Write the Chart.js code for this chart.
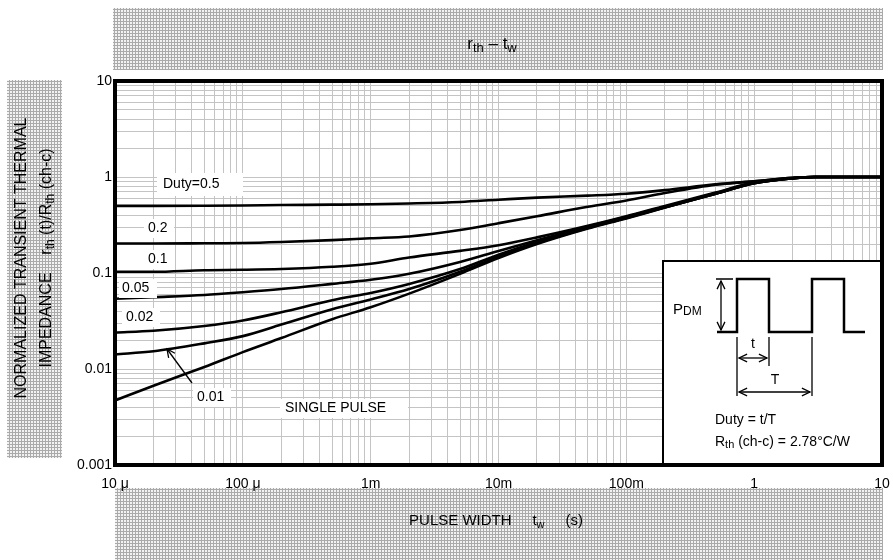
<!DOCTYPE html>
<html>
<head>
<meta charset="utf-8">
<script src="https://cdn.jsdelivr.net/npm/chart.js@4.4.0/dist/chart.umd.min.js"></script>
<style>
  html, body { margin: 0; padding: 0; background: #fff; }
  #wrap { width: 893px; height: 560px; }
</style>
</head>
<body>
<div id="wrap"><canvas id="chart" width="893" height="560"></canvas></div>
<script>
// pulse width (s)
const timeS = [1e-5, 2e-5, 5e-5, 1e-4, 2e-4, 5e-4, 1e-3, 2e-3, 5e-3, 1e-2, 2e-2, 5e-2, 0.1, 0.2, 0.5, 1, 2, 3, 5, 10];

// normalized transient thermal impedance per duty
const duty05  = [0.50, 0.50, 0.502, 0.505, 0.51, 0.515, 0.52, 0.53, 0.55, 0.58, 0.61, 0.64, 0.67, 0.73, 0.84, 0.90, 0.98, 1.0, 1.0, 1.0];
const duty02  = [0.203, 0.203, 0.204, 0.205, 0.21, 0.22, 0.23, 0.24, 0.28, 0.33, 0.39, 0.49, 0.57, 0.68, 0.83, 0.90, 0.98, 1.0, 1.0, 1.0];
const duty01  = [0.103, 0.103, 0.107, 0.108, 0.110, 0.116, 0.125, 0.145, 0.17, 0.195, 0.235, 0.31, 0.39, 0.50, 0.69, 0.88, 0.97, 1.0, 1.0, 1.0];
const duty005 = [0.054, 0.056, 0.059, 0.063, 0.068, 0.077, 0.085, 0.098, 0.13, 0.17, 0.22, 0.305, 0.385, 0.49, 0.68, 0.87, 0.97, 1.0, 1.0, 1.0];
const duty002 = [0.024, 0.025, 0.028, 0.032, 0.039, 0.052, 0.062, 0.077, 0.11, 0.155, 0.21, 0.30, 0.38, 0.485, 0.67, 0.86, 0.97, 1.0, 1.0, 1.0];
const duty001 = [0.0142, 0.0153, 0.0185, 0.022, 0.029, 0.042, 0.053, 0.068, 0.103, 0.148, 0.205, 0.295, 0.375, 0.48, 0.67, 0.86, 0.97, 1.0, 1.0, 1.0];
const singlePulse = [0.0047, 0.0067, 0.0105, 0.015, 0.021, 0.033, 0.044, 0.061, 0.098, 0.143, 0.20, 0.29, 0.37, 0.48, 0.67, 0.86, 0.97, 1.0, 1.0, 1.0];

const xTickLabels = ['10 \u03bc', '100 \u03bc', '1m', '10m', '100m', '1', '10'];
const yTickLabels = ['0.001', '0.01', '0.1', '1', '10'];

const FONT = "'Liberation Sans', Arial, sans-serif";

function toPoints(arr) {
    return timeS.map((t, i) => ({ x: t, y: arr[i] }));
}

function logTicks(minExp, maxExp) {
    const out = [];
    for (let e = minExp; e < maxExp; e++) {
        for (let m = 1; m < 10; m++) out.push({ value: m * Math.pow(10, e) });
    }
    out.push({ value: Math.pow(10, maxExp) });
    return out;
}

function decadeIndex(v, minExp) {
    const l = Math.log10(v);
    if (Math.abs(l - Math.round(l)) > 1e-6) return -1;
    return Math.round(l) - minExp;
}

// hatched texture for the title bands
function makePattern(ctx) {
    const c = document.createElement('canvas');
    c.width = 3; c.height = 3;
    const p = c.getContext('2d');
    p.fillStyle = '#f2f2f2';
    p.fillRect(0, 0, 3, 3);
    p.fillStyle = '#aaaaaa';
    p.fillRect(0, 0, 1, 3);
    p.fillRect(0, 0, 3, 1);
    return ctx.createPattern(c, 'repeat');
}

// draw runs of text with different sizes / offsets (for subscripts)
function runsWidth(ctx, runs) {
    let w = 0;
    runs.forEach(r => { ctx.font = r[1] + 'px ' + FONT; w += ctx.measureText(r[0]).width; });
    return w;
}
function drawRuns(ctx, runs, x, y, align) {
    let cx = x;
    if (align === 'center') cx = x - runsWidth(ctx, runs) / 2;
    ctx.textAlign = 'left';
    ctx.textBaseline = 'middle';
    runs.forEach(r => {
        ctx.font = r[1] + 'px ' + FONT;
        ctx.fillText(r[0], cx, y + (r[2] || 0));
        cx += ctx.measureText(r[0]).width;
    });
}

function arrowHead(ctx, x1, y1, x2, y2, size) {
    const a = Math.atan2(y2 - y1, x2 - x1);
    ctx.beginPath();
    ctx.moveTo(x2 - size * Math.cos(a - 0.45), y2 - size * Math.sin(a - 0.45));
    ctx.lineTo(x2, y2);
    ctx.lineTo(x2 - size * Math.cos(a + 0.45), y2 - size * Math.sin(a + 0.45));
    ctx.stroke();
}
function arrowLine(ctx, x1, y1, x2, y2, both) {
    ctx.beginPath();
    ctx.moveTo(x1, y1);
    ctx.lineTo(x2, y2);
    ctx.stroke();
    arrowHead(ctx, x1, y1, x2, y2, 9);
    if (both) arrowHead(ctx, x2, y2, x1, y1, 9);
}

const sheetPlugin = {
    id: 'sheet',
    beforeDraw(chart) {
        const ctx = chart.ctx;
        const pat = makePattern(ctx);
        ctx.save();
        ctx.fillStyle = '#fff';
        ctx.fillRect(0, 0, chart.width, chart.height);
        ctx.fillStyle = pat;
        ctx.fillRect(113, 8, 770, 62);    // title band
        ctx.fillRect(7, 80, 55, 378);     // y title band
        ctx.fillRect(115, 488, 768, 72);  // x title band

        ctx.fillStyle = '#000';
        drawRuns(ctx, [['r', 17, 0], ['th', 13, 4], [' \u2013 ', 17, 0], ['t', 17, 0], ['w', 13, 4]], 492, 44, 'center');

        drawRuns(ctx, [['PULSE WIDTH', 15, 0], ['     t', 15, 0], ['w', 11, 4], ['     (s)', 15, 0]], 496, 521, 'center');

        ctx.translate(22, 258);
        ctx.rotate(-Math.PI / 2);
        drawRuns(ctx, [['NORMALIZED TRANSIENT THERMAL', 16, 0]], 0, 0, 'center');
        ctx.translate(0, 25);
        drawRuns(ctx, [['IMPEDANCE    r', 16, 0], ['th', 12, 4], [' (t)/R', 16, 0], ['th', 12, 4], [' (ch-c)', 16, 0]], 0, 0, 'center');
        ctx.restore();
    },
    afterDatasetsDraw(chart) {
        const ctx = chart.ctx;
        ctx.save();
        ctx.fillStyle = '#000';
        ctx.strokeStyle = '#000';

        // curve labels with white boxes
        const labels = [
            ['Duty=0.5', 163, 184, 157, 173, 86, 23],
            ['0.2', 148, 228, 144, 219, 30, 19],
            ['0.1', 148, 259, 144, 250, 30, 19],
            ['0.05', 122, 288, 119, 279, 38, 19],
            ['0.02', 126, 317, 122, 308, 38, 19],
            ['0.01', 197, 397, 193, 388, 38, 19],
            ['SINGLE PULSE', 285, 408, 280, 399, 128, 19]
        ];
        labels.forEach(l => {
            ctx.fillStyle = '#fff';
            ctx.fillRect(l[3], l[4], l[5], l[6]);
            ctx.fillStyle = '#000';
            drawRuns(ctx, [[l[0], 14, 0]], l[1], l[2], 'left');
        });

        ctx.lineWidth = 1.3;
        arrowLine(ctx, 192, 383, 167, 349, false);

        // inset box
        ctx.fillStyle = '#fff';
        ctx.fillRect(663, 261, 219, 204);
        ctx.lineWidth = 2;
        ctx.strokeRect(663, 261, 219, 204);

        // pulse train
        ctx.lineWidth = 2.5;
        ctx.beginPath();
        ctx.moveTo(717, 332);
        ctx.lineTo(737, 332); ctx.lineTo(737, 279); ctx.lineTo(769, 279); ctx.lineTo(769, 332);
        ctx.lineTo(812, 332); ctx.lineTo(812, 279); ctx.lineTo(844, 279); ctx.lineTo(844, 332);
        ctx.lineTo(865, 332);
        ctx.stroke();

        ctx.lineWidth = 1.3;
        ctx.beginPath();
        ctx.moveTo(716, 279); ctx.lineTo(733, 279);
        ctx.moveTo(737, 337); ctx.lineTo(737, 396);
        ctx.moveTo(769, 337); ctx.lineTo(769, 366);
        ctx.moveTo(812, 337); ctx.lineTo(812, 396);
        ctx.stroke();
        arrowLine(ctx, 721, 281, 721, 330, true);
        arrowLine(ctx, 739, 358, 767, 358, true);
        arrowLine(ctx, 739, 392, 810, 392, true);

        ctx.fillStyle = '#000';
        drawRuns(ctx, [['P', 15, 0], ['DM', 12, 2]], 673, 310, 'left');
        drawRuns(ctx, [['t', 14, 0]], 753, 344, 'center');
        drawRuns(ctx, [['T', 14, 0]], 775, 380, 'center');
        drawRuns(ctx, [['Duty = t/T', 14, 0]], 715, 420, 'left');
        drawRuns(ctx, [['R', 14, 0], ['th', 11, 3], [' (ch-c) = 2.78\u00b0C/W', 14, 0]], 715, 442, 'left');
        ctx.restore();
    },
    afterDraw(chart) {
        const a = chart.chartArea;
        const ctx = chart.ctx;
        ctx.save();
        ctx.strokeStyle = '#000';
        ctx.lineWidth = 4;
        ctx.strokeRect(a.left, a.top, a.right - a.left, a.bottom - a.top);
        ctx.restore();
    }
};

const series = [duty05, duty02, duty01, duty005, duty002, duty001, singlePulse];
const names = ['Duty=0.5', '0.2', '0.1', '0.05', '0.02', '0.01', 'SINGLE PULSE'];

new Chart(document.getElementById('chart'), {
    type: 'line',
    data: {
        datasets: series.map((s, i) => ({
            label: names[i],
            data: toPoints(s),
            borderColor: '#000',
            borderWidth: 2.6,
            pointRadius: 0,
            fill: false,
            cubicInterpolationMode: 'monotone'
        }))
    },
    options: {
        responsive: false,
        animation: false,
        devicePixelRatio: 1,
        layout: { padding: { left: 0, top: 81, right: 11, bottom: 0 } },
        plugins: {
            legend: { display: false },
            title: { display: false },
            tooltip: { enabled: false }
        },
        scales: {
            x: {
                type: 'logarithmic',
                min: 1e-5,
                max: 10,
                afterBuildTicks(scale) { scale.ticks = logTicks(-5, 1); },
                afterFit(scale) {
                    scale.height = 95;
                    scale.paddingLeft = 0;
                    scale.paddingRight = 0;
                },
                grid: { color: '#c4c4c4', lineWidth: 1, drawTicks: false },
                border: { display: false },
                ticks: {
                    autoSkip: false,
                    maxRotation: 0,
                    padding: 11,
                    color: '#000',
                    font: { family: FONT, size: 14 },
                    callback(v) {
                        const k = decadeIndex(v, -5);
                        return k >= 0 ? xTickLabels[k] : '';
                    }
                }
            },
            y: {
                type: 'logarithmic',
                min: 0.001,
                max: 10,
                afterBuildTicks(scale) { scale.ticks = logTicks(-3, 1); },
                afterFit(scale) {
                    scale.width = 115;
                    scale.paddingTop = 0;
                    scale.paddingBottom = 0;
                },
                grid: { color: '#c4c4c4', lineWidth: 1, drawTicks: false },
                border: { display: false },
                ticks: {
                    autoSkip: false,
                    padding: 3,
                    color: '#000',
                    font: { family: FONT, size: 14 },
                    callback(v) {
                        const k = decadeIndex(v, -3);
                        return k >= 0 ? yTickLabels[k] : '';
                    }
                }
            }
        }
    },
    plugins: [sheetPlugin]
});
</script>
</body>
</html>
